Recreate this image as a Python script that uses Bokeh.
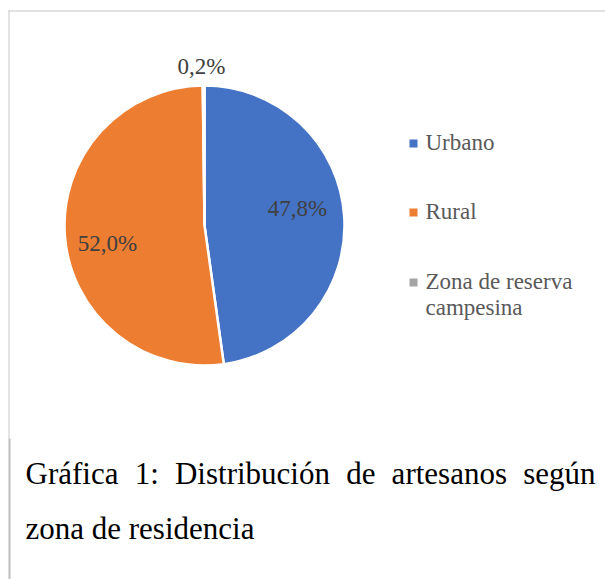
import math
from bokeh.plotting import figure
from bokeh.models import Range1d, ColumnDataSource
from bokeh.core.properties import value
from bokeh.embed import file_html
from bokeh.resources import INLINE

# ---- data ----
categories = ["Urbano", "Rural", "Zona de reserva campesina"]
percentages = [47.8, 52.0, 0.2]
pct_labels = ["47,8%", "52,0%", "0,2%"]
colors = ["#4472C4", "#ED7D31", "#A5A5A5"]
legend_lines = [["Urbano"], ["Rural"], ["Zona de reserva", "campesina"]]
caption_line1 = ["Gráfica", "1:", "Distribución", "de", "artesanos", "según"]
caption_line2 = "zona de residencia"

# ---- layout ----
W, H = 605, 579
def X(px):
    return px
def Y(py):
    return H - py

FONT = "Liberation Serif"
LAB = 23
CAP = 31
off_lab = 0.38 * LAB
off_cap = 0.39 * CAP
cx, cy, R = 204, 225, 140
label_pos = [(297, 217), (107, 252), (201, 75)]  # (x center, baseline) in page px
legend_x, legend_text_x = 413, 425
legend_y = [143, 212, 282]
legend_base = [151, 220, 290]
legend_lh = 26

p = figure(width=W, height=H, x_range=Range1d(0, W), y_range=Range1d(0, H),
           output_backend="svg", toolbar_location=None, min_border=0,
           background_fill_color="white", border_fill_color="white")
p.axis.visible = False
p.grid.visible = False
p.outline_line_color = None

# frame lines
p.segment(x0=[X(8)], y0=[Y(10.5)], x1=[X(605)], y1=[Y(10.5)], line_color="#C4C4C4", line_width=1)
p.segment(x0=[X(8.5)], y0=[Y(10)], x1=[X(8.5)], y1=[Y(438)], line_color="#C8C8C8", line_width=1)
p.segment(x0=[X(9)], y0=[Y(438)], x1=[X(9)], y1=[Y(580)], line_color="#BDBDBD", line_width=2)

# pie (clockwise from 12 o'clock)
total = sum(percentages)
starts, ends = [], []
cum = 0.0
for v in percentages:
    a0 = cum / total
    cum += v
    a1 = cum / total
    starts.append(math.pi / 2 - 2 * math.pi * a1)
    ends.append(math.pi / 2 - 2 * math.pi * a0)
src = ColumnDataSource(dict(start=starts, end=ends, color=colors,
                            x=[X(cx)] * 3, y=[Y(cy)] * 3))
p.wedge(x="x", y="y", radius=R, start_angle="start", end_angle="end",
        fill_color="color", line_color="white", line_width=2.5, source=src)

# data labels
p.text(x=[X(a) for a, b in label_pos], y=[Y(b - off_lab) for a, b in label_pos], text=pct_labels,
       text_font=value(FONT), text_font_size=f"{LAB}px", text_color="#404040",
       text_align="center", text_baseline="alphabetic")

# legend
p.rect(x=[X(legend_x)] * 3, y=[Y(v) for v in legend_y], width=8, height=8,
       fill_color=colors, line_color=None)
lx, ly, lt = [], [], []
for i, lines in enumerate(legend_lines):
    for j, t in enumerate(lines):
        lx.append(X(legend_text_x))
        ly.append(Y(legend_base[i] + j * legend_lh - off_lab))
        lt.append(t)
p.text(x=lx, y=ly, text=lt, text_font=value(FONT), text_font_size=f"{LAB}px",
       text_color="#595959", text_align="left", text_baseline="alphabetic")

# caption (justified first line)
em = {"a": .444, "b": .5, "c": .444, "d": .5, "e": .444, "f": .333, "g": .5, "i": .278,
      "n": .5, "o": .5, "r": .333, "s": .389, "t": .278, "u": .5, "z": .444, "D": .722,
      "G": .722, "1": .5, ":": .278, "á": .444, "ó": .5, "ú": .5}
widths = [sum(em[c] for c in w) * CAP for w in caption_line1]
left, right = 25, 595
gap = (right - left - sum(widths)) / (len(caption_line1) - 1)
wx = []
pos = left
for w in widths:
    wx.append(X(pos))
    pos += w + gap
p.text(x=wx, y=[Y(485 - off_cap)] * len(wx), text=caption_line1, text_font=value(FONT),
       text_font_size=f"{CAP}px", text_color="black", text_align="left",
       text_baseline="alphabetic")
p.text(x=[X(25)], y=[Y(540 - off_cap)], text=[caption_line2], text_font=value(FONT),
       text_font_size=f"{CAP}px", text_color="black", text_align="left",
       text_baseline="alphabetic")

open("out.html", "w").write(file_html(p, INLINE))
